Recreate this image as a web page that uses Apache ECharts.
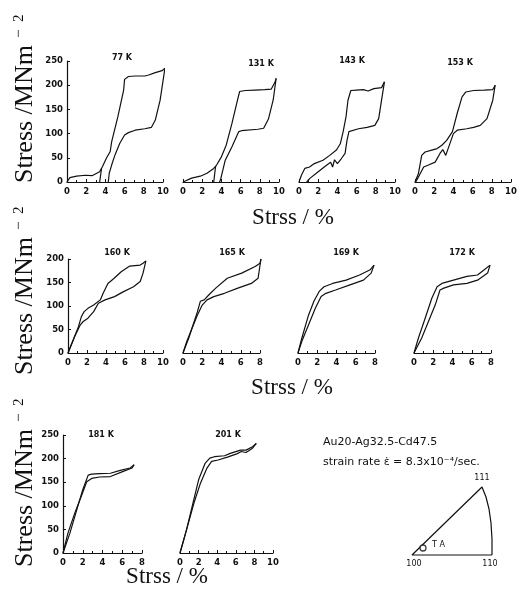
<!DOCTYPE html>
<html><head><meta charset="utf-8">
<script src="https://cdn.jsdelivr.net/npm/echarts@6/dist/echarts.min.js"></script>
<style>html,body{margin:0;padding:0;background:#fff}#c{width:525px;height:604px}</style>
</head><body><div id="c"></div>
<script>
// ---- data (strain %, stress MN m^-2) ----
const temps = ['77 K','131 K','143 K','153 K','160 K','165 K','169 K','172 K','181 K','201 K'];
const xTicksRow1 = [0,2,4,6,8,10];
const yTicksRow1 = [0,50,100,150,200,250];
const yTicksRow2 = [0,50,100,150,200];
const yTicksRow3 = [0,50,100,150,200,250];

const load77 = [[0,0],[0.3,9],[1.0,12],[1.9,14],[2.6,13],[3.0,17],[3.4,21],[3.7,32],[4.1,49],[4.5,63],[4.65,83],[4.8,87],[5.3,135],[5.9,190],[6.0,212],[6.4,218],[7.1,219],[8.1,219],[8.5,221],[9.2,226],[9.9,230],[10.2,235]];
const unload77 = [[10.2,235],[9.7,169],[9.2,128],[8.8,113],[8.1,110],[7.1,107],[6.4,102],[6.0,97],[5.5,80],[5.0,56],[4.65,35],[4.4,18],[4.3,0]];
const branch77 = [[3.6,28],[3.4,0]];

const load131 = [[0,0],[0.9,8],[1.8,12],[2.5,18],[3.2,28],[3.5,35],[4.0,52],[4.5,76],[5.1,121],[5.6,163],[5.9,187],[6.5,189],[7.5,190],[8.5,191],[9.2,192],[9.6,207],[9.7,214]];
const unload131 = [[9.7,214],[9.4,170],[8.9,130],[8.4,111],[7.8,109],[6.1,106],[5.8,104],[5.1,73],[4.4,45],[3.9,4],[3.8,0]];
const branch131 = [[3.4,33],[3.2,0]];

const load143 = [[0,0],[0.25,14],[0.6,28],[1.1,31],[1.6,38],[2.5,45],[3.2,55],[3.9,66],[4.3,79],[4.6,104],[4.9,135],[5.1,169],[5.4,189],[6.0,190],[6.7,191],[7.2,188],[7.8,193],[8.6,195],[8.9,207]];
const unload143 = [[8.9,207],[8.6,169],[8.3,131],[7.9,117],[7.1,113],[6.2,110],[5.2,104],[5.0,86],[4.8,59],[4.4,48],[4.2,52],[4.0,38],[3.7,46],[3.5,31],[3.3,41],[2.9,35],[2.0,21],[1.1,7],[0.8,0]];

const load153 = [[0,0],[0.35,17],[0.7,55],[1.05,62],[1.75,66],[2.3,69],[2.8,76],[3.3,86],[3.9,104],[4.4,142],[4.9,176],[5.3,186],[6.1,189],[7.2,190],[8.1,191],[8.35,200]];
const unload153 = [[8.35,200],[8.1,169],[7.5,131],[6.8,117],[6.1,113],[5.4,110],[4.4,107],[4.0,100],[3.7,83],[3.2,55],[2.9,67],[2.6,59],[2.1,41],[1.4,35],[0.9,31],[0.35,10],[0.07,0]];

const load160 = [[0,0],[0.56,28],[1.1,56],[1.4,77],[1.7,88],[2.1,95],[2.7,102],[3.4,113],[3.7,127],[4.2,148],[4.8,158],[5.6,173],[6.5,185],[7.6,187],[7.9,191],[8.2,196]];
const unload160 = [[8.2,196],[7.9,170],[7.6,152],[6.9,141],[5.8,130],[4.9,120],[3.9,113],[3.2,106],[2.7,88],[2.1,74],[1.6,67],[1.3,60],[0.7,35],[0,0]];

const load165 = [[0,0],[0.6,32],[1.5,88],[1.8,110],[2.2,113],[2.7,124],[3.4,138],[4.6,159],[6.1,170],[7.5,184],[8.0,191],[8.1,200]];
const unload165 = [[8.1,200],[7.8,159],[7.1,148],[5.7,138],[4.3,127],[3.2,120],[2.5,113],[2.0,102],[1.5,81],[0.95,53],[0.4,25],[0,0]];

const load169 = [[0,0],[0.4,32],[1.1,81],[1.65,110],[2.2,131],[2.7,141],[3.6,148],[5.0,155],[6.4,166],[7.5,177],[7.9,187]];
const unload169 = [[7.9,187],[7.6,170],[6.8,155],[5.4,145],[3.9,134],[2.9,127],[2.4,120],[1.8,95],[1.1,60],[0.4,25],[0,0]];

const load172 = [[0,0],[0.46,32],[1.16,74],[1.86,117],[2.4,141],[2.9,148],[4.1,155],[5.5,163],[6.6,166],[7.3,177],[7.9,187]];
const unload172 = [[7.9,187],[7.65,170],[6.6,155],[5.5,148],[4.1,145],[3.1,138],[2.7,134],[2.2,102],[1.5,67],[0.8,32],[0,0]];

const load181 = [[0,0],[0.7,42],[1.4,92],[2.0,134],[2.55,165],[2.9,167],[3.7,168],[4.8,169],[5.8,175],[6.8,180],[7.2,187]];
const unload181 = [[7.2,187],[7.0,180],[6.1,173],[4.8,162],[3.7,161],[2.9,158],[2.4,151],[1.9,123],[1.2,85],[0.5,42],[0,0]];

const load201 = [[0,0],[0.7,49],[1.4,106],[2.0,155],[2.7,190],[3.2,201],[3.7,204],[4.8,206],[5.4,211],[6.5,218],[7.1,218],[7.8,225],[8.2,232]];
const unload201 = [[8.2,232],[7.8,222],[7.1,213],[6.6,215],[6.1,210],[5.1,203],[4.1,197],[3.4,194],[2.9,180],[2.2,148],[1.5,106],[0.7,49],[0,0]];

// stereographic triangle outline (local units) and TA orientation point
const triangleOutline = [[80,0],[0,0],[70,68],[74,58],[77,46],[79,32],[80,16],[80,0]];
const taPoint = [[11,7]];
const poleLabels = ['100','110','111'];

// ---- layout ----
const ink = '#111';
const panels = [
  {l:67, t:61, w:96, h:121, xmax:10, ymax:250, yt:yTicksRow1, showY:true},
  {l:183,t:61, w:96, h:121, xmax:10, ymax:250, yt:yTicksRow1, showY:false},
  {l:299,t:61, w:96, h:121, xmax:10, ymax:250, yt:yTicksRow1, showY:false},
  {l:415,t:61, w:96, h:121, xmax:10, ymax:250, yt:yTicksRow1, showY:false},
  {l:68, t:259,w:95, h:94,  xmax:10, ymax:200, yt:yTicksRow2, showY:true},
  {l:183,t:259,w:77, h:94,  xmax:8,  ymax:200, yt:yTicksRow2, showY:false},
  {l:298,t:259,w:77, h:94,  xmax:8,  ymax:200, yt:yTicksRow2, showY:false},
  {l:414,t:259,w:77, h:94,  xmax:8,  ymax:200, yt:yTicksRow2, showY:false},
  {l:63, t:435,w:79, h:118, xmax:8,  ymax:250, yt:yTicksRow3, showY:true},
  {l:180,t:435,w:93, h:118, xmax:10, ymax:250, yt:yTicksRow3, showY:false}
];
const curves = [
  [load77, unload77, branch77],
  [load131, unload131, branch131],
  [load143, unload143],
  [load153, unload153],
  [load160, unload160],
  [load165, unload165],
  [load169, unload169],
  [load172, unload172],
  [load181, unload181],
  [load201, unload201]
];
const titlePos = [[122,58],[261,64],[352,61],[460,63],[117,253],[232,253],[346,253],[462,253],[101,435],[228,435]];

const labelStyle = {fontFamily:'DejaVu Sans', fontWeight:'bold', fontSize:8.5, color:ink};
const grid = [], xAxis = [], yAxis = [], series = [];
panels.forEach((p,i)=>{
  grid.push({left:p.l, top:p.t, width:p.w, height:p.h});
  xAxis.push({type:'value', gridIndex:i, min:0, max:p.xmax, interval:2,
    axisLine:{show:true, onZero:false, lineStyle:{color:ink, width:1.2}},
    axisTick:{show:true, inside:true, length:3, lineStyle:{color:ink, width:1}},
    minorTick:{show:true, splitNumber:2, length:2, lineStyle:{color:ink, width:1}},
    splitLine:{show:false},
    axisLabel:Object.assign({margin:5}, labelStyle)});
  yAxis.push({type:'value', gridIndex:i, min:0, max:p.ymax, interval:50, show:p.showY,
    axisLine:{show:true, lineStyle:{color:ink, width:1.2}},
    axisTick:{show:true, inside:true, length:3, lineStyle:{color:ink, width:1}},
    splitLine:{show:false},
    axisLabel:Object.assign({margin:4}, labelStyle)});
  curves[i].forEach(d=>{
    series.push({type:'line', xAxisIndex:i, yAxisIndex:i, data:d, showSymbol:false,
      clip:false, silent:true, lineStyle:{color:ink, width:1.2}});
  });
});
// triangle grid
grid.push({left:412, top:487, width:80, height:68});
xAxis.push({type:'value', gridIndex:10, min:0, max:80, show:false});
yAxis.push({type:'value', gridIndex:10, min:0, max:68, show:false});
series.push({type:'line', xAxisIndex:10, yAxisIndex:10, data:triangleOutline, showSymbol:false,
  clip:false, lineStyle:{color:ink, width:1.2}});
series.push({type:'scatter', xAxisIndex:10, yAxisIndex:10, data:taPoint, symbol:'circle', z:5,
  symbolSize:6, itemStyle:{color:'#fff', borderColor:ink, borderWidth:1.3}});

function txt(x,y,text,font,align,vAlign,rot){
  const o = {type:'text', x:x, y:y, silent:true,
    style:{text:text, font:font, fill:ink, align:align||'center', verticalAlign:vAlign||'middle',
           textAlign:align||'center', textVerticalAlign:vAlign||'middle'}};
  if(rot) o.rotation = rot;
  return o;
}
const graphic = [];
temps.forEach((t,i)=>graphic.push(txt(titlePos[i][0], titlePos[i][1], t, 'bold 8px "DejaVu Sans"')));
const serif = '"Liberation Serif", "DejaVu Serif", serif';
[[25,183],[25,375],[25,567]].forEach(([x,y])=>{
  graphic.push(txt(x, y, 'Stress /MNm', '26px '+serif, 'left', 'middle', Math.PI/2));
  graphic.push(txt(x-6, y-145, '\u2212  2', '15px '+serif, 'left', 'middle', Math.PI/2));
});
[[293,218],[292,388],[167,577]].forEach(([x,y])=>graphic.push(txt(x,y,'Strss / %', '23px '+serif)));
graphic.push(txt(323,442,'Au20-Ag32.5-Cd47.5','11px "DejaVu Sans"','left'));
graphic.push(txt(323,462,'strain rate \u03b5\u0307 = 8.3x10\u207b\u2074/sec.','11px "DejaVu Sans"','left'));
graphic.push(txt(482,478,poleLabels[2],'8px "DejaVu Sans"'));
graphic.push(txt(414,564,poleLabels[0],'8px "DejaVu Sans"'));
graphic.push(txt(490,564,poleLabels[1],'8px "DejaVu Sans"'));
graphic.push(txt(432,545,'T A','8px "DejaVu Sans"','left'));

const chart = echarts.init(document.getElementById('c'), null, {renderer:'canvas'});
chart.setOption({animation:false, backgroundColor:'#fff', grid, xAxis, yAxis, series, graphic});
</script></body></html>
